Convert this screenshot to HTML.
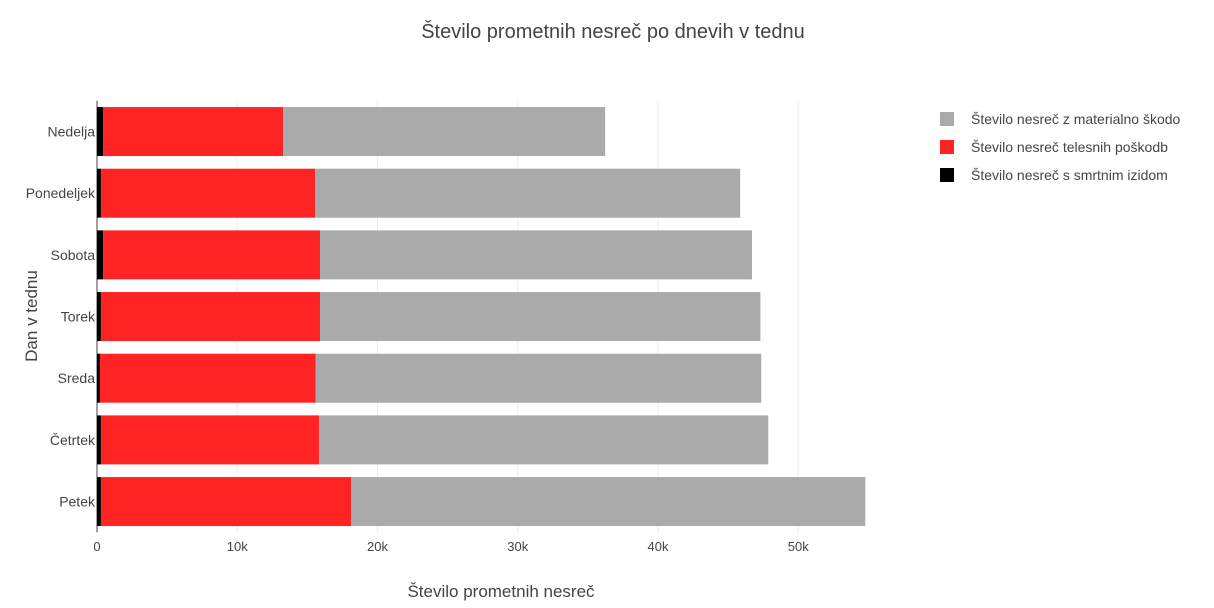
<!DOCTYPE html>
<html><head><meta charset="utf-8">
<style>
body{margin:0;background:#fff;font-family:"Liberation Sans","DejaVu Sans",sans-serif;}
svg text{font-family:"Liberation Sans","DejaVu Sans",sans-serif;fill:#444;}
</style></head>
<body>
<svg id="chart" width="1214" height="603">
<text x="613" y="38" text-anchor="middle" font-size="20">Število prometnih nesreč po dnevih v tednu</text>
<g id="grid"></g>
<g id="bars"></g>
<g id="yticks"></g>
<g id="xticks"></g>
<text x="501" y="597" text-anchor="middle" font-size="17">Število prometnih nesreč</text>
<text transform="translate(37,316) rotate(-90)" text-anchor="middle" font-size="17">Dan v tednu</text>
<g id="legend"></g>
</svg>
<script>
const categories=["Nedelja","Ponedeljek","Sobota","Torek","Sreda","Četrtek","Petek"];
const fatal=[430,280,430,280,210,280,280];
const injury=[12840,15270,15470,15620,15390,15550,17840];
const material=[22960,30310,30800,31400,31760,32030,36660];
const xTicks=[0,10000,20000,30000,40000,50000];
const xTickLabels=["0","10k","20k","30k","40k","50k"];
const seriesNames=["Število nesreč z materialno škodo","Število nesreč telesnih poškodb","Število nesreč s smrtnim izidom"];
const NS="http://www.w3.org/2000/svg";
const x0=97,pxPer=0.014025,plotTop=100.7,band=61.67;
const xs=v=>x0+v*pxPer;
const yc=i=>plotTop+band*(i+0.5);
function mk(t,a,p){const e=document.createElementNS(NS,t);for(const k in a)e.setAttribute(k,a[k]);p.appendChild(e);return e;}
const grid=document.getElementById('grid'),bars=document.getElementById('bars'),yt=document.getElementById('yticks'),xt=document.getElementById('xticks'),lg=document.getElementById('legend');
xTicks.forEach((v,i)=>{
 if(i>0){const l=mk('line',{x1:xs(v),x2:xs(v),y1:plotTop,y2:plotTop+band*7,stroke:'#eee'},grid);
 
 }
 const t=mk('text',{x:xs(v),y:551,'text-anchor':'middle','font-size':13},xt);t.textContent=xTickLabels[i];
 
 
});
const zl=mk('line',{x1:x0,x2:x0,y1:plotTop,y2:plotTop+band*7,stroke:'#444','stroke-width':1},grid);


const colors=['#000000','#ff2424','#aaaaaa'];
categories.forEach((c,i)=>{
 const vals=[fatal[i],injury[i],material[i]];let acc=0;
 vals.forEach((v,s)=>{
  const r=mk('rect',{x:xs(acc),y:yc(i)-24.5,width:xs(acc+v)-xs(acc),height:49,fill:colors[s]},bars);
  
  
  acc+=v;
 });
 const t=mk('text',{x:95,y:yc(i)+5,'text-anchor':'end','font-size':14},yt);t.textContent=c;
 
 
});
const lc=['#aaaaaa','#ff2424','#000000'];
seriesNames.forEach((n,i)=>{
 const y=119+i*28;
 const r=mk('rect',{x:940,y:y-7,width:14,height:14,fill:lc[i]},lg);
 
 
 const t=mk('text',{x:971,y:y+5,'font-size':14},lg);t.textContent=n;
 
 
});
</script>
</body></html>
